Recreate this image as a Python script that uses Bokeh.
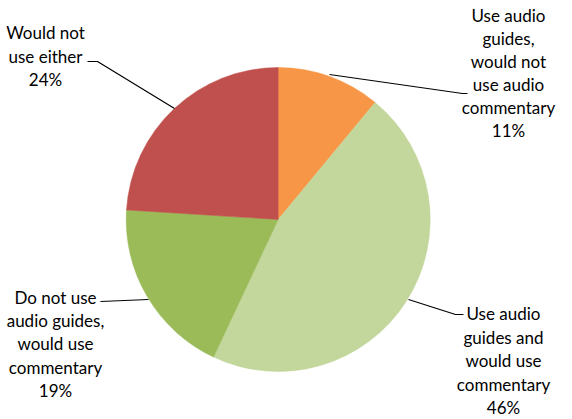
import math
from bokeh.plotting import figure
from bokeh.models import Range1d
from bokeh.core.properties import value
from bokeh.embed import file_html
from bokeh.resources import INLINE

categories = [
    "Use audio guides, would not use audio commentary",
    "Use audio guides and would use commentary",
    "Do not use audio guides, would use commentary",
    "Would not use either",
]
shares = [11, 46, 19, 24]
colors = ["#F79646", "#C3D69B", "#9BBB59", "#C0504D"]
label_lines = [
    ["Use audio", "guides,", "would not", "use audio", "commentary", "11%"],
    ["Use audio", "guides and", "would use", "commentary", "46%"],
    ["Do not use", "audio guides,", "would use", "commentary", "19%"],
    ["Would not", "use either", "24%"],
]

W, H = 572, 419


def px(x):
    return x


def py(y):
    return H - y


p = figure(width=W, height=H, output_backend="svg", toolbar_location=None,
           x_range=Range1d(0, W), y_range=Range1d(0, H), min_border=0)
p.axis.visible = False
p.grid.visible = False
p.outline_line_color = None
p.background_fill_color = "white"

cx, cy, r = px(277.7), py(219.0), 152
total = sum(shares)
cum = 0
starts, ends = [], []
for s in shares:
    starts.append(math.pi / 2 - 2 * math.pi * cum / total)
    cum += s
    ends.append(math.pi / 2 - 2 * math.pi * cum / total)

p.wedge(x=[cx] * 4, y=[cy] * 4, radius=r, start_angle=starts, end_angle=ends,
        direction="clock", fill_color=colors, line_color=colors, line_width=0.5)

# label anchors (center x, first-line y, step) in page pixels
anchors = [(508, 15, 23.0), (503, 313, 23.5), (55, 297, 23.2), (45, 32, 23.5)]
xs, ys, ts = [], [], []
for (ax, ay, st), lines in zip(anchors, label_lines):
    for i, t in enumerate(lines):
        xs.append(px(ax))
        ys.append(py(ay + i * st))
        ts.append(t)
p.text(x=xs, y=ys, text=ts, text_align="center", text_baseline="middle",
       text_font=value("Lato"), text_font_size="17px", text_color="#000000")

leaders = [
    [(329, 74), (462, 93), (467, 93)],
    [(408, 299), (455, 314), (463, 314)],
    [(148, 299), (100, 301)],
    [(174, 108), (97, 61), (87, 61)],
]
for pts in leaders:
    p.line([px(a) for a, b in pts], [py(b) for a, b in pts], line_color="black",
           line_width=1.2)

open("out.html", "w").write(file_html(p, INLINE))
